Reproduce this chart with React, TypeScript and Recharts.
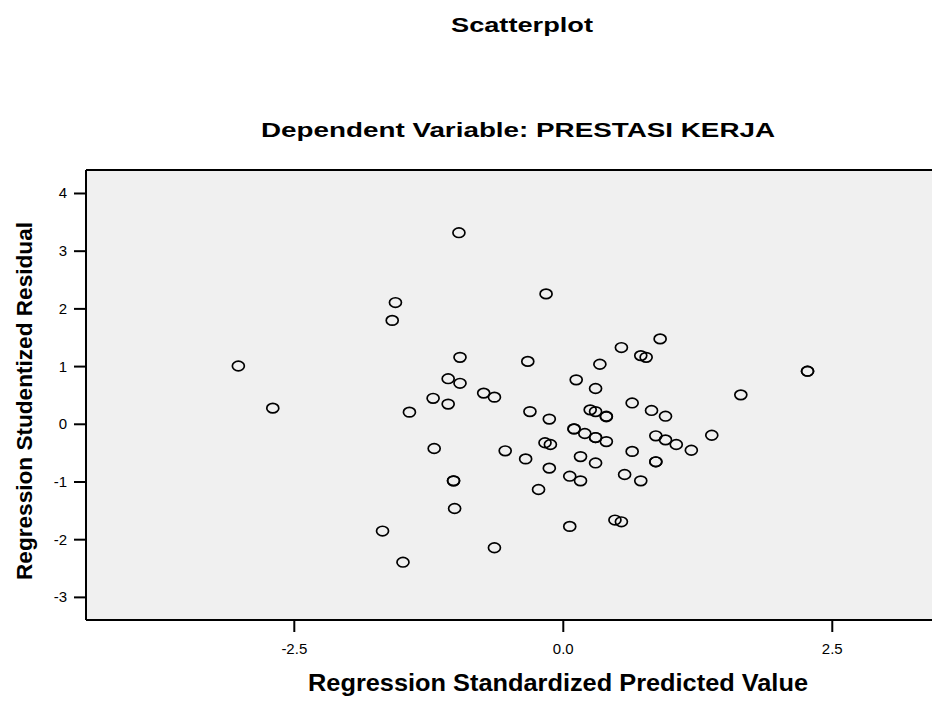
import React from "react";
import {
  ScatterChart,
  Scatter,
  XAxis,
  YAxis,
  CartesianGrid,
  ReferenceLine,
} from "recharts";

// Regression standardized predicted value (x) / studentized residual (y)
const predicted = [
  -3.02, -2.7, -0.97, -1.56, -1.59, -0.16, 0.54, -0.96, -0.33, 0.34, -1.07,
  -0.96, 0.12, 0.3, -0.74, -0.64, -1.21, -1.07, -1.43, -0.31, -0.13, 0.25, 0.3,
  0.4, 0.4, 0.1, 0.1, 0.2, 0.3, 0.3, 0.4, -1.2, -0.17, -0.12, -0.54, -0.35,
  0.16, 0.3, -0.13, -1.02, -1.02, 0.06, 0.16, -0.23, -1.01, -1.68, -1.49,
  -0.64, 0.06, 0.9, 0.72, 0.77, 2.27, 2.27, 1.65, 0.64, 0.82, 0.95, 1.38, 0.86,
  0.95, 1.05, 1.19, 0.64, 0.86, 0.86, 0.57, 0.72, 0.48, 0.54,
];
const residual = [
  1.01, 0.28, 3.32, 2.11, 1.8, 2.26, 1.33, 1.16, 1.09, 1.04, 0.79, 0.71, 0.77,
  0.62, 0.54, 0.47, 0.45, 0.35, 0.21, 0.22, 0.09, 0.25, 0.22, 0.13, 0.14, -0.08,
  -0.08, -0.16, -0.23, -0.23, -0.3, -0.42, -0.32, -0.35, -0.46, -0.6, -0.56,
  -0.67, -0.76, -0.98, -0.98, -0.9, -0.98, -1.13, -1.46, -1.85, -2.39, -2.14,
  -1.77, 1.48, 1.19, 1.16, 0.92, 0.92, 0.51, 0.37, 0.24, 0.14, -0.19, -0.2,
  -0.27, -0.35, -0.45, -0.47, -0.65, -0.65, -0.87, -0.98, -1.66, -1.69,
];

const xTicks = [-2.5, 0, 2.5];
const yTicks = [-3, -2, -1, 0, 1, 2, 3, 4];
const xDomain = [-4.436, 3.687];
const yDomain = [-3.392, 4.407];

const data = predicted.map((x, i) => ({ x, y: residual[i] }));

const FONT = '"Liberation Sans", Arial, sans-serif';

const Ring = (props: any) => {
  const { cx, cy } = props;
  if (cx == null || cy == null) return null;
  return (
    <ellipse
      cx={cx}
      cy={cy}
      rx={6}
      ry={4.8}
      fill="none"
      stroke="#000"
      strokeWidth={1.7}
    />
  );
};

const YTick = (props: any) => {
  const { x, y, payload } = props;
  return (
    <text
      x={x}
      y={y}
      dy={5}
      textAnchor="end"
      fontSize={15}
      fontFamily={FONT}
      fill="#000"
    >
      {payload.value}
    </text>
  );
};

const XTick = (props: any) => {
  const { x, y, payload } = props;
  return (
    <text
      x={x}
      y={y}
      dy={22}
      textAnchor="middle"
      fontSize={15}
      fontFamily={FONT}
      fill="#000"
    >
      {Number(payload.value).toFixed(1)}
    </text>
  );
};

export default function App() {
  return (
    <div
      style={{
        position: "absolute",
        left: 0,
        top: 0,
        width: 932,
        height: 702,
        overflow: "hidden",
        background: "#fff",
      }}
    >
      <ScatterChart
        width={990}
        height={702}
        margin={{ top: 170, right: 30, bottom: 17, left: 26 }}
      >
        <CartesianGrid
          horizontal={false}
          vertical={false}
          fill="#f0f0f0"
          fillOpacity={1}
          stroke="none"
        />
        <XAxis
          type="number"
          dataKey="x"
          domain={xDomain}
          ticks={xTicks}
          allowDataOverflow
          height={65}
          tickSize={12}
          tickMargin={0}
          axisLine={{ stroke: "#000", strokeWidth: 2 }}
          tickLine={{ stroke: "#000", strokeWidth: 2 }}
          tick={<XTick />}
        />
        <YAxis
          type="number"
          dataKey="y"
          domain={yDomain}
          ticks={yTicks}
          allowDataOverflow
          width={60}
          tickSize={12}
          tickMargin={7}
          axisLine={{ stroke: "#000", strokeWidth: 2 }}
          tickLine={{ stroke: "#000", strokeWidth: 2 }}
          tick={<YTick />}
        />
        <ReferenceLine y={yDomain[1]} stroke="#000" strokeWidth={2} />
        <Scatter data={data} shape={<Ring />} isAnimationActive={false} />
      </ScatterChart>

      {/* titles and axis titles */}
      <svg
        width={932}
        height={702}
        style={{ position: "absolute", left: 0, top: 0, pointerEvents: "none" }}
        fontFamily={FONT}
        fontWeight="bold"
        fill="#000"
      >
        <text
          x={522}
          y={32}
          textAnchor="middle"
          fontSize={21}
          textLength={142}
          lengthAdjust="spacingAndGlyphs"
        >
          Scatterplot
        </text>
        <text
          x={518}
          y={137}
          textAnchor="middle"
          fontSize={21}
          textLength={514}
          lengthAdjust="spacingAndGlyphs"
        >
          Dependent Variable: PRESTASI KERJA
        </text>
        <text
          x={558}
          y={691}
          textAnchor="middle"
          fontSize={23}
          textLength={500}
          lengthAdjust="spacingAndGlyphs"
        >
          Regression Standardized Predicted Value
        </text>
        <text
          transform="translate(24,401) rotate(-90)"
          dy={8}
          textAnchor="middle"
          fontSize={22}
          textLength={358}
          lengthAdjust="spacingAndGlyphs"
        >
          Regression Studentized Residual
        </text>
      </svg>
    </div>
  );
}
